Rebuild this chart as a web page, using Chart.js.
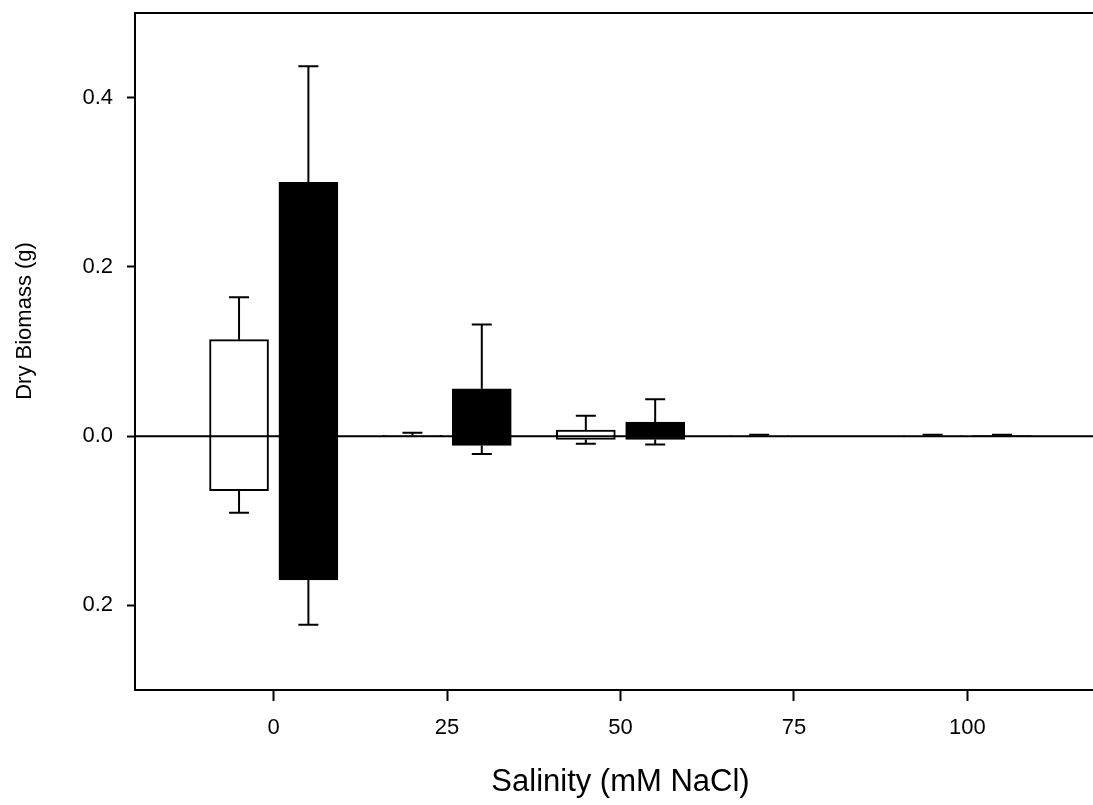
<!DOCTYPE html>
<html>
<head>
<meta charset="utf-8">
<title>Dry Biomass vs Salinity</title>
<script src="https://cdn.jsdelivr.net/npm/chart.js@4.4.0/dist/chart.umd.min.js"></script>
<style>
    html, body { margin: 0; padding: 0; background: #fff; overflow: hidden; }
    #wrap { width: 1106px; height: 805px; }
</style>
</head>
<body>
<div id="wrap"><canvas id="biomassChart"></canvas></div>
<script>
// salinity levels (mM NaCl)
const salinity = [0, 25, 50, 75, 100];

// open bars: shoot (above zero) and root (below zero), with SE
const openShoot    = [0.114, 0.001, 0.007, 0.0005, 0.0005];
const openShootErr = [0.050, 0.003, 0.017, 0.001, 0.001];
const openRoot     = [0.0645, 0.0005, 0.004, 0, 0];
const openRootErr  = [0.026, 0, 0.005, 0, 0];

// filled bars
const fillShoot    = [0.300, 0.056, 0.0165, 0, 0.0005];
const fillShootErr = [0.137, 0.076, 0.027, 0, 0.001];
const fillRoot     = [0.170, 0.011, 0.004, 0, 0];
const fillRootErr  = [0.053, 0.010, 0.006, 0, 0];

const xTicks = [0, 25, 50, 75, 100];
const yTicks = [-0.2, 0, 0.2, 0.4];

const FONT = "'Liberation Sans', Arial, sans-serif";
const groupOffset = 5;

function toPoints(shoot, root, err1, err2, shift) {
    return salinity.map((s, i) => ({
        x: s + shift,
        y: [-root[i], shoot[i]],
        up: err1[i],
        down: err2[i]
    }));
}

const errorBars = {
    id: 'errorBars',
    afterDatasetsDraw(chart) {
        const ctx = chart.ctx;
        const area = chart.chartArea;
        const ys = chart.scales.y;
        const y0 = ys.getPixelForValue(0);

        ctx.save();
        ctx.strokeStyle = '#000';
        ctx.lineWidth = 2;

        // zero line
        ctx.beginPath();
        ctx.moveTo(area.left, y0);
        ctx.lineTo(area.right, y0);
        ctx.stroke();

        chart.data.datasets.forEach((ds, di) => {
            const meta = chart.getDatasetMeta(di);
            meta.data.forEach((bar, i) => {
                const p = ds.data[i];
                const cx = bar.x;
                const half = 10;
                if (p.up > 0) {
                    const yTop = ys.getPixelForValue(p.y[1]);
                    const yEnd = ys.getPixelForValue(p.y[1] + p.up);
                    ctx.beginPath();
                    ctx.moveTo(cx, yTop);
                    ctx.lineTo(cx, yEnd);
                    ctx.moveTo(cx - half, yEnd);
                    ctx.lineTo(cx + half, yEnd);
                    ctx.stroke();
                }
                if (p.down > 0) {
                    const yBot = ys.getPixelForValue(p.y[0]);
                    const yEnd = ys.getPixelForValue(p.y[0] - p.down);
                    ctx.beginPath();
                    ctx.moveTo(cx, yBot);
                    ctx.lineTo(cx, yEnd);
                    ctx.moveTo(cx - half, yEnd);
                    ctx.lineTo(cx + half, yEnd);
                    ctx.stroke();
                }
            });
        });

        // top and right frame
        ctx.beginPath();
        ctx.moveTo(area.left, area.top);
        ctx.lineTo(area.right, area.top);
        ctx.lineTo(area.right, area.bottom);
        ctx.stroke();
        ctx.restore();
    }
};

new Chart(document.getElementById('biomassChart'), {
    type: 'bar',
    data: {
        datasets: [
            {
                label: 'open',
                data: toPoints(openShoot, openRoot, openShootErr, openRootErr, -groupOffset),
                backgroundColor: '#fff',
                borderColor: '#000',
                borderWidth: 2,
                borderSkipped: false,
                barThickness: 59,
                grouped: false
            },
            {
                label: 'filled',
                data: toPoints(fillShoot, fillRoot, fillShootErr, fillRootErr, groupOffset),
                backgroundColor: '#000',
                borderColor: '#000',
                borderWidth: 2,
                borderSkipped: false,
                barThickness: 59,
                grouped: false
            }
        ]
    },
    options: {
        responsive: true,
        maintainAspectRatio: false,
        animation: false,
        layout: { padding: { top: 13, right: 0, left: 0, bottom: 0 } },
        plugins: {
            legend: { display: false },
            tooltip: { enabled: false }
        },
        scales: {
            x: {
                type: 'linear',
                offset: false,
                min: -20,
                max: 120,
                afterBuildTicks: s => { s.ticks = xTicks.map(v => ({ value: v })); },
                afterFit: s => { s.height = 115; s.paddingLeft = 0; s.paddingRight = 0; },
                grid: {
                    offset: false,
                    drawOnChartArea: false,
                    tickLength: 11,
                    tickWidth: 2,
                    tickColor: '#000'
                },
                border: { color: '#000', width: 2 },
                ticks: {
                    color: '#000',
                    padding: 14,
                    maxRotation: 0,
                    font: { family: FONT, size: 22 }
                },
                title: {
                    display: true,
                    text: 'Salinity (mM NaCl)',
                    color: '#000',
                    font: { family: FONT, size: 31 },
                    padding: { top: 0, bottom: 4 }
                }
            },
            y: {
                min: -0.3,
                max: 0.5,
                afterBuildTicks: s => { s.ticks = yTicks.map(v => ({ value: v })); },
                afterFit: s => { s.width = 135; s.paddingTop = 0; s.paddingBottom = 0; },
                grid: {
                    drawOnChartArea: false,
                    tickLength: 8,
                    tickWidth: 2,
                    tickColor: '#000'
                },
                border: { color: '#000', width: 2 },
                ticks: {
                    color: '#000',
                    padding: 14,
                    font: { family: FONT, size: 22 },
                    callback: v => Math.abs(v).toFixed(1)
                },
                title: {
                    display: true,
                    // leading spaces nudge the label up a bit, like the original
                    text: '\u00a0'.repeat(10) + 'Dry Biomass (g)',
                    color: '#000',
                    font: { family: FONT, size: 22 },
                    padding: { top: 12, bottom: 0 }
                }
            }
        }
    },
    plugins: [errorBars]
});
</script>
</body>
</html>
